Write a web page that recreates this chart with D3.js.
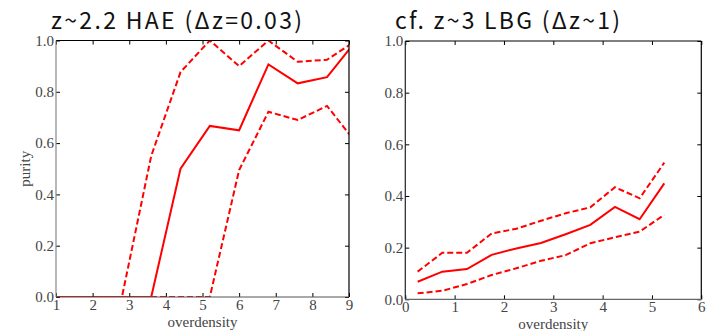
<!DOCTYPE html>
<html>
<head>
<meta charset="utf-8">
<script src="https://cdn.jsdelivr.net/npm/d3@7"></script>
<style>
  html, body { margin: 0; padding: 0; background: #fff; }
  svg { display: block; }
</style>
</head>
<body>
<svg id="chart" width="726" height="331"></svg>
<script>
// z~2.2 HAE panel: bin centres in overdensity, purity and its error band
const haeX      = [0.4, 1.2, 2.0, 2.8, 3.6, 4.4, 5.2, 6.0, 6.8, 7.6, 8.4, 9.2];
const haePurity = [0, 0, 0, 0, 0, 0.50, 0.667, 0.65, 0.907, 0.833, 0.857, 1.0];
const haeUpper  = [0, 0, 0, 0, 0.55, 0.877, 1.0, 0.90, 1.0, 0.917, 0.925, 1.0];
const haeLower  = [0, 0, 0, 0, 0, 0, 0, 0.495, 0.722, 0.69, 0.745, 0.60];

// z~3 LBG comparison panel
const lbgX      = [0.25, 0.75, 1.25, 1.75, 2.25, 2.75, 3.25, 3.75, 4.25, 4.75, 5.25];
const lbgPurity = [0.068, 0.107, 0.117, 0.172, 0.197, 0.218, 0.252, 0.288, 0.358, 0.31, 0.449];
const lbgUpper  = [0.107, 0.18, 0.18, 0.255, 0.273, 0.304, 0.333, 0.356, 0.434, 0.391, 0.529];
const lbgLower  = [0.023, 0.033, 0.059, 0.094, 0.12, 0.149, 0.171, 0.217, 0.24, 0.262, 0.327];

const haeXTicks = [1, 2, 3, 4, 5, 6, 7, 8, 9];
const lbgXTicks = [0, 1, 2, 3, 4, 5, 6];
const yTicks = [0, 0.2, 0.4, 0.6, 0.8, 1.0];

(function(){
  const svg = d3.select('#chart');
  const serif = '"Liberation Serif", "DejaVu Serif", serif';

  function panel(o){
    const x = d3.scaleLinear().domain(o.xDomain).range([o.left, o.right]);
    const y = d3.scaleLinear().domain([0, 1]).range([o.bottom, o.top]);
    const g = svg.append('g');

    const clipId = 'clip-' + o.id;
    svg.append('clipPath').attr('id', clipId)
      .append('rect')
      .attr('x', o.left).attr('y', o.top)
      .attr('width', o.right - o.left).attr('height', o.bottom - o.top);

    const line = d3.line().x(d => x(d[0])).y(d => y(d[1]));
    const lines = g.append('g').attr('clip-path', `url(#${clipId})`);
    const series = [
      { v: o.lower, dash: '6,3' },
      { v: o.upper, dash: '6,3' },
      { v: o.purity, dash: null }
    ];
    series.forEach(s => {
      lines.append('path')
        .datum(o.xs.map((xv, i) => [xv, s.v[i]]))
        .attr('d', line)
        .attr('fill', 'none')
        .attr('stroke', '#ff0000')
        .attr('stroke-width', 2)
        .attr('stroke-dasharray', s.dash);
    });

    // inward ticks on all four sides
    const styleAxis = sel => {
      sel.select('.domain').remove();
      sel.selectAll('.tick line').attr('stroke', '#000');
      sel.selectAll('.tick text')
        .attr('fill', '#444')
        .style('font-family', serif)
        .style('font-size', '15px');
    };
    g.append('g').attr('transform', `translate(0,${o.bottom})`)
      .call(d3.axisBottom(x).tickValues(o.xTicks).tickFormat(d3.format('d')).tickSize(-4).tickPadding(2))
      .call(styleAxis);
    g.append('g').attr('transform', `translate(0,${o.top})`)
      .call(d3.axisTop(x).tickValues(o.xTicks).tickFormat('').tickSize(-4))
      .call(styleAxis);
    g.append('g').attr('transform', `translate(${o.left},0)`)
      .call(d3.axisLeft(y).tickValues(yTicks).tickFormat(d3.format('.1f')).tickSize(-4).tickPadding(2))
      .call(styleAxis);
    g.append('g').attr('transform', `translate(${o.right},0)`)
      .call(d3.axisRight(y).tickValues(yTicks).tickFormat('').tickSize(-4))
      .call(styleAxis);

    // spines
    const sp = (x1, y1, x2, y2, c) => g.append('line')
      .attr('x1', x1).attr('y1', y1).attr('x2', x2).attr('y2', y2)
      .attr('stroke', c).attr('stroke-width', 1.2);
    sp(o.left, o.top, o.right, o.top, '#000');
    sp(o.right, o.top, o.right, o.bottom, '#000');
    sp(o.left, o.bottom, o.right, o.bottom, o.bottomColor);
    sp(o.left, o.top, o.left, o.bottom, o.leftColor);

    g.append('text')
      .attr('x', (o.left + o.right) / 2).attr('y', o.bottom + 30)
      .attr('text-anchor', 'middle')
      .attr('fill', '#444')
      .style('font-family', serif).style('font-size', '15px')
      .text('overdensity');

    if (o.ylabel) {
      g.append('text')
        .attr('transform', `translate(${o.left - 26},${(o.top + o.bottom) / 2}) rotate(-90)`)
        .attr('text-anchor', 'middle')
        .attr('fill', '#444')
        .style('font-family', serif).style('font-size', '15px')
        .text(o.ylabel);
    }

    // title is wide-set in the original, so stretch the spacing to its width
    g.append('text')
      .attr('x', o.titleX).attr('y', 29)
      .attr('fill', '#111')
      .attr('textLength', o.titleW)
      .attr('lengthAdjust', 'spacing')
      .style('font-family', '"Noto Sans CJK JP", "Noto Sans", sans-serif')
      .style('font-size', '23px')
      .text(o.title);
  }

  panel({
    id: 'hae', left: 56, right: 349, top: 40.5, bottom: 297,
    xDomain: [1, 9], xTicks: haeXTicks,
    xs: haeX, purity: haePurity, upper: haeUpper, lower: haeLower,
    leftColor: '#888', bottomColor: '#555',
    ylabel: 'purity', title: 'z~2.2 HAE (\u0394z=0.03)', titleX: 51, titleW: 251
  });
  panel({
    id: 'lbg', left: 405.3, right: 701.3, top: 41, bottom: 299.3,
    xDomain: [0, 6], xTicks: lbgXTicks,
    xs: lbgX, purity: lbgPurity, upper: lbgUpper, lower: lbgLower,
    leftColor: '#222', bottomColor: '#666',
    ylabel: null, title: 'cf. z~3 LBG (\u0394z~1)', titleX: 395, titleW: 225
  });
})();
</script>
</body>
</html>
